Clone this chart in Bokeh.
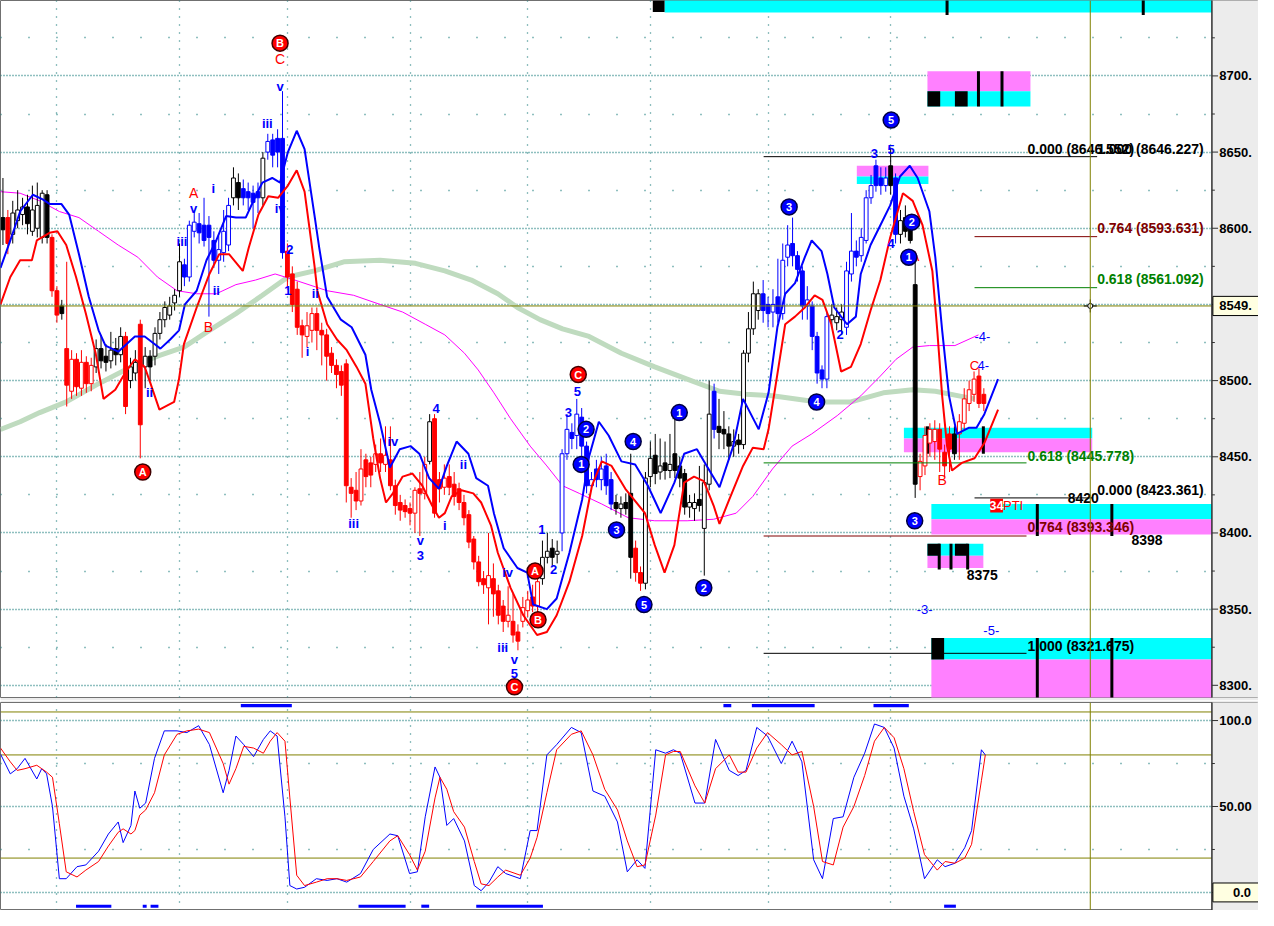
from bokeh.plotting import figure
from bokeh.layouts import column
from bokeh.models import FixedTicker, Span, Range1d, Grid
from bokeh.embed import file_html
from bokeh.resources import INLINE
from bokeh.core.properties import value

FONT = "Liberation Sans"

# ---------------- price bars (one per session) ----------------
bar_open = [8607, 8607, 8596, 8605, 8609, 8614, 8598, 8600, 8594, 8622,
            8594, 8559, 8549, 8521, 8493, 8514, 8495, 8512, 8498, 8509,
            8521, 8516, 8513, 8521, 8517, 8529, 8500, 8505, 8537, 8509,
            8516, 8516, 8531, 8540, 8543, 8551, 8559, 8576, 8568, 8598,
            8603, 8602, 8602, 8592, 8579, 8584, 8589, 8620, 8630, 8626,
            8624, 8623, 8624, 8620, 8650, 8658, 8659, 8659, 8585, 8570,
            8560, 8536, 8529, 8533, 8544, 8533, 8530, 8518, 8510, 8506,
            8511, 8430, 8428, 8421, 8448, 8446, 8445, 8452, 8445, 8448,
            8431, 8420, 8418, 8416, 8413, 8429, 8426, 8447, 8475, 8435,
            8430, 8437, 8432, 8429, 8420, 8412, 8396, 8381, 8370, 8364,
            8370, 8362, 8352, 8342, 8342, 8335, 8342, 8349, 8358, 8352,
            8370, 8384, 8390, 8386, 8400, 8452, 8466, 8464, 8476, 8457,
            8431, 8442, 8435, 8444, 8435, 8420, 8416, 8420, 8426, 8390,
            8374, 8367, 8437, 8451, 8440, 8446, 8441, 8452, 8444, 8439,
            8417, 8416, 8422, 8403, 8432, 8493, 8470, 8468, 8465, 8457,
            8461, 8458, 8518, 8534, 8546, 8557, 8550, 8545, 8555, 8544,
            8581, 8590, 8582, 8572, 8549, 8549, 8529, 8507, 8501, 8540,
            8538, 8540, 8535, 8570, 8585, 8582, 8592, 8620, 8641, 8633,
            8628, 8641, 8633, 8596, 8607, 8599, 8563, 8437, 8444, 8459,
            8460, 8468, 8453, 8465, 8465, 8465, 8472, 8485, 8491, 8503,
            8491]
bar_high = [8633, 8612, 8618, 8625, 8620, 8622, 8628, 8630, 8625, 8625,
            8596, 8562, 8553, 8578, 8520, 8518, 8520, 8516, 8515, 8527,
            8530, 8524, 8532, 8528, 8535, 8532, 8515, 8520, 8540, 8522,
            8520, 8535, 8545, 8552, 8555, 8560, 8590, 8580, 8605, 8612,
            8610, 8620, 8608, 8598, 8595, 8612, 8620, 8640, 8636, 8632,
            8630, 8628, 8630, 8650, 8662, 8662, 8665, 8690, 8590, 8575,
            8565, 8540, 8545, 8548, 8548, 8538, 8534, 8522, 8514, 8510,
            8514, 8436, 8440, 8455, 8452, 8450, 8458, 8462, 8470, 8470,
            8435, 8425, 8422, 8420, 8430, 8440, 8450, 8478, 8478, 8440,
            8445, 8445, 8440, 8433, 8425, 8415, 8398, 8385, 8375, 8400,
            8380, 8366, 8356, 8365, 8360, 8340, 8358, 8362, 8366, 8372,
            8395, 8400, 8396, 8395, 8455, 8478, 8472, 8488, 8482, 8460,
            8440, 8448, 8450, 8452, 8440, 8425, 8424, 8426, 8452, 8395,
            8378, 8440, 8460, 8465, 8462, 8460, 8465, 8475, 8450, 8442,
            8425, 8426, 8444, 8445, 8500, 8498, 8488, 8480, 8470, 8468,
            8465, 8520, 8545, 8565, 8560, 8566, 8555, 8560, 8580, 8590,
            8602, 8607, 8585, 8575, 8562, 8552, 8532, 8510, 8545, 8550,
            8548, 8550, 8578, 8610, 8592, 8600, 8625, 8635, 8645, 8640,
            8640, 8653, 8636, 8612, 8615, 8606, 8580, 8452, 8470, 8472,
            8474, 8472, 8458, 8470, 8470, 8478, 8495, 8500, 8506, 8508,
            8495]
bar_low = [8589, 8583, 8590, 8600, 8602, 8596, 8595, 8594, 8590, 8590,
           8555, 8538, 8540, 8483, 8488, 8490, 8490, 8492, 8493, 8505,
           8508, 8506, 8508, 8510, 8512, 8478, 8495, 8500, 8449, 8495,
           8500, 8510, 8527, 8535, 8540, 8546, 8555, 8562, 8565, 8594,
           8590, 8588, 8542, 8574, 8570, 8578, 8585, 8615, 8612, 8615,
           8612, 8600, 8610, 8615, 8645, 8640, 8640, 8580, 8560, 8545,
           8530, 8515, 8522, 8525, 8520, 8510, 8500, 8505, 8495, 8490,
           8420, 8410, 8415, 8418, 8430, 8430, 8440, 8440, 8440, 8428,
           8412, 8408, 8410, 8405, 8400, 8398, 8422, 8445, 8410, 8420,
           8425, 8425, 8418, 8415, 8405, 8390, 8376, 8365, 8360, 8340,
           8345, 8340, 8335, 8338, 8328, 8323, 8338, 8345, 8348, 8348,
           8366, 8380, 8378, 8380, 8388, 8448, 8455, 8455, 8450, 8426,
           8428, 8430, 8428, 8425, 8415, 8412, 8410, 8412, 8370, 8368,
           8362, 8363, 8430, 8432, 8435, 8435, 8436, 8436, 8430, 8412,
           8410, 8408, 8414, 8372, 8428, 8462, 8455, 8455, 8448, 8450,
           8452, 8455, 8512, 8530, 8540, 8538, 8535, 8535, 8538, 8540,
           8575, 8575, 8565, 8540, 8540, 8520, 8498, 8495, 8495, 8535,
           8533, 8530, 8530, 8565, 8575, 8578, 8590, 8616, 8624, 8622,
           8624, 8622, 8590, 8590, 8594, 8590, 8423, 8428, 8438, 8450,
           8448, 8440, 8437, 8440, 8448, 8448, 8468, 8480, 8486, 8482,
           8480]
bar_close = [8599, 8590, 8610, 8612, 8614, 8603, 8612, 8615, 8623, 8594,
             8559, 8543, 8544, 8497, 8514, 8496, 8512, 8498, 8510, 8521,
             8513, 8512, 8520, 8517, 8529, 8483, 8509, 8512, 8471, 8516,
             8509, 8531, 8540, 8548, 8549, 8556, 8578, 8568, 8602, 8604,
             8597, 8592, 8594, 8579, 8586, 8598, 8615, 8633, 8620, 8620,
             8620, 8617, 8620, 8646, 8657, 8648, 8650, 8584, 8568, 8550,
             8535, 8530, 8536, 8544, 8533, 8530, 8516, 8510, 8504, 8497,
             8431, 8426, 8421, 8442, 8437, 8438, 8452, 8446, 8451, 8431,
             8418, 8415, 8414, 8413, 8428, 8426, 8445, 8473, 8413, 8429,
             8436, 8430, 8424, 8420, 8410, 8394, 8381, 8368, 8366, 8372,
             8360, 8346, 8342, 8346, 8333, 8329, 8351, 8356, 8352, 8368,
             8384, 8388, 8384, 8388, 8452, 8468, 8462, 8478, 8457, 8431,
             8435, 8435, 8442, 8431, 8419, 8416, 8419, 8416, 8384, 8374,
             8367, 8436, 8449, 8439, 8444, 8441, 8445, 8441, 8436, 8417,
             8420, 8420, 8418, 8433, 8478, 8468, 8466, 8465, 8457, 8460,
             8458, 8518, 8534, 8557, 8557, 8546, 8544, 8550, 8544, 8579,
             8589, 8582, 8573, 8549, 8553, 8529, 8505, 8501, 8542, 8543,
             8542, 8545, 8572, 8585, 8581, 8594, 8620, 8628, 8628, 8628,
             8633, 8628, 8596, 8605, 8598, 8592, 8432, 8447, 8464, 8468,
             8468, 8455, 8444, 8455, 8452, 8473, 8488, 8494, 8501, 8485,
             8485]
# bar colour class: k = neutral, b = blue wave, r = red wave
bar_group = list("krkkkkkkkk" "rrkrrrrrrk" "kkkkkrkkrk" "kkkkkkkbbb"
                 "bbbbbbbkkb" "bbbkbbbbrr" "rrrrrrrrrr" "rrrrrrrrrr"
                 "rrrrrrrkrr" "rrrrrrrrrr" "rrrrrrrrrr" "kkkkbbbbbb"
                 "bbbbbkkkkr" "rkkkkkkkkk" "kkkkkbkkkk" "kkkkkbbbbb"
                 "bbbbbbbbbk" "kkbbbbbbbb" "bkbkkkkrrr" "rrrrkrrrrr" "r")

# ---------------- overlay lines ----------------
blue_x = [-0.5, 1.5, 3.5, 6.1, 8.1, 9.5, 11.9, 13.5, 15.5, 17.5,
          19.5, 20.9, 23.5, 26.9, 28.9, 30.9, 32.1, 34.1, 35.9, 37.1,
          39.5, 41.5, 43.5, 45.5, 47.5, 49.5, 51.5, 52.9, 54.9, 56.5,
          58.1, 59.9, 61.5, 63.5, 64.5, 66.1, 68.9, 71.1, 73.9, 75.1,
          76.9, 78.9, 80.9, 83.1, 84.9, 86.9, 88.9, 90.5, 92.5, 94.9,
          96.5, 98.9, 100.1, 102.1, 104.9, 106.9, 108.1, 110.9, 112.9, 115.5,
          118.1, 119.5, 121.5, 123.5, 126.1, 128.9, 131.5, 134.1, 136.9, 138.9,
          141.5, 143.5, 146.1, 148.9, 150.9, 154.1, 156.1, 157.9, 159.5, 161.5,
          163.5, 164.9, 166.9, 168.1, 169.5, 172.1, 173.9, 174.9, 176.9, 178.9,
          180.9, 182.9, 184.9, 186.5, 188.9, 190.1, 191.5, 192.9, 194.5, 196.9,
          198.5, 200.1, 202.9]
blue_y = [8574, 8592, 8611, 8622, 8619, 8616, 8616, 8609, 8583, 8555,
          8533, 8523, 8519, 8529, 8529, 8524, 8521, 8527, 8533, 8550,
          8559, 8579, 8592, 8608, 8607, 8607, 8621, 8630, 8633, 8630,
          8650, 8664, 8652, 8609, 8587, 8555, 8540, 8535, 8517, 8494,
          8472, 8443, 8455, 8457, 8452, 8436, 8429, 8444, 8460, 8452,
          8436, 8431, 8413, 8390, 8377, 8374, 8353, 8350, 8357, 8387,
          8422, 8450, 8473, 8464, 8447, 8445, 8431, 8413, 8433, 8452,
          8455, 8444, 8430, 8457, 8488, 8468, 8492, 8535, 8557, 8564,
          8581, 8592, 8585, 8570, 8548, 8537, 8542, 8570, 8589, 8602,
          8615, 8634, 8641, 8633, 8611, 8581, 8533, 8490, 8465, 8469,
          8469, 8478, 8501]
red_x = [-0.5, 1.5, 3.5, 5.9, 6.9, 9.5, 11.1, 12.9, 14.9, 16.9,
         18.9, 20.5, 22.9, 24.9, 26.9, 28.9, 30.1, 31.9, 34.9, 35.9,
         36.9, 39.5, 42.1, 44.1, 46.1, 48.9, 50.1, 52.1, 54.1, 56.1,
         58.1, 59.9, 61.5, 63.5, 64.1, 66.1, 68.1, 70.1, 72.1, 73.9,
         75.5, 76.9, 78.1, 79.5, 81.5, 83.5, 85.5, 87.5, 88.9, 90.1,
         91.5, 93.5, 95.9, 97.5, 99.5, 100.9, 103.5, 106.1, 108.9, 110.9,
         112.9, 115.5, 118.1, 120.1, 122.1, 124.1, 126.9, 130.9, 132.9, 134.9,
         136.9, 138.9, 140.9, 142.9, 144.9, 146.1, 148.1, 150.9, 152.9, 155.1,
         156.1, 157.5, 159.5, 161.5, 163.5, 165.5, 167.1, 168.9, 170.9, 172.9,
         174.9, 176.9, 178.9, 180.9, 183.5, 185.5, 187.5, 189.5, 190.5, 191.5,
         192.5, 193.5, 195.5, 198.1, 200.1, 202.9]
red_y = [8550, 8568, 8579, 8579, 8592, 8597, 8598, 8589, 8568, 8544,
         8518, 8488, 8494, 8505, 8514, 8509, 8498, 8481, 8486, 8501,
         8524, 8548, 8570, 8583, 8583, 8572, 8587, 8609, 8621, 8620,
         8628, 8638, 8624, 8576, 8559, 8537, 8527, 8520, 8509, 8498,
         8462, 8436, 8420, 8426, 8437, 8439, 8431, 8418, 8410, 8413,
         8424, 8428, 8426, 8420, 8405, 8387, 8364, 8346, 8333, 8335,
         8346, 8368, 8398, 8431, 8447, 8444, 8429, 8413, 8392, 8374,
         8392, 8433, 8437, 8434, 8418, 8406, 8422, 8444, 8456, 8455,
         8468, 8496, 8537, 8542, 8548, 8556, 8553, 8537, 8506, 8509,
         8524, 8546, 8566, 8594, 8623, 8618, 8602, 8572, 8533, 8490,
         8457, 8441, 8446, 8449, 8459, 8481]
mag_x = [-0.5, 3.5, 7.5, 11.5, 15.5, 19.5, 23.5, 27.5, 31.5, 35.5,
         39.5, 43.5, 47.5, 51.5, 55.5, 59.5, 66.1, 71.5, 76.9, 81.5,
         86.1, 90.1, 94.1, 96.9, 100.1, 103.5, 107.5, 110.9, 114.1, 117.5,
         122.1, 127.5, 132.9, 139.5, 144.9, 149.5, 152.9, 156.9, 160.9, 164.9,
         170.1, 174.9, 178.9, 182.1, 185.5, 188.9, 194.1, 198.9]
mag_y = [8624, 8623, 8618, 8611, 8607, 8598, 8589, 8581, 8568, 8559,
         8557, 8557, 8563, 8566, 8570, 8566, 8559, 8556, 8550, 8545,
         8537, 8530, 8518, 8507, 8492, 8475, 8457, 8444, 8431, 8426,
         8419, 8410, 8408, 8408, 8409, 8413, 8424, 8442, 8457, 8465,
         8477, 8490, 8503, 8514, 8522, 8523, 8523, 8530]
green_x = [-0.5, 3.5, 7.5, 12.9, 19.5, 26.1, 31.5, 36.9, 42.1, 47.5,
           52.9, 58.1, 63.5, 69.5, 76.9, 84.1, 90.1, 95.5, 100.9, 104.9,
           109.5, 114.1, 119.5, 126.1, 132.9, 139.5, 146.1, 151.5, 156.9, 166.1,
           172.9, 179.5, 185.5, 190.1, 194.9, 198.1]
green_y = [8468, 8473, 8479, 8486, 8498, 8509, 8516, 8522, 8533, 8544,
           8556, 8568, 8572, 8578, 8579, 8577, 8572, 8566, 8557, 8548,
           8540, 8534, 8529, 8518, 8509, 8501, 8493, 8491, 8490, 8486,
           8486, 8492, 8494, 8493, 8490, 8488]

# ---------------- stochastic ----------------
stoch_x = [-0.5, 1.5, 2.9, 4.5, 6.9, 7.9, 8.9, 10.1, 11.5, 12.9,
           15.1, 16.9, 19.5, 21.5, 23.5, 24.5, 26.1, 26.9, 27.9, 29.1,
           30.9, 32.9, 35.5, 37.5, 39.9, 42.1, 44.9, 46.1, 47.5, 49.1,
           51.1, 53.1, 54.5, 55.9, 57.5, 58.5, 59.9, 61.5, 63.9, 66.1,
           68.1, 70.1, 72.9, 75.5, 78.9, 80.5, 82.9, 84.5, 86.1, 88.1,
           89.1, 90.5, 91.9, 94.1, 96.1, 97.5, 99.1, 100.9, 102.5, 105.5,
           107.5, 108.9, 110.9, 112.9, 115.9, 117.9, 120.3, 122.7, 125.3, 127.3,
           129.3, 130.9, 133.1, 135.1, 136.7, 138.1, 141.1, 143.1, 145.3, 148.1,
           149.9, 151.5, 153.7, 155.9, 158.7, 160.9, 162.9, 165.3, 167.1, 169.3,
           171.3, 173.5, 175.7, 177.7, 179.7, 181.7, 183.7, 185.7, 187.9, 190.5,
           192.1, 194.1, 196.1, 197.5, 199.5, 200.3]
stoch_k = [80.5, 69, 72, 78, 66, 72, 69, 50, 8, 8,
           15, 16, 24, 34, 41, 29, 39, 59, 49, 52,
           78, 94, 94, 93, 97, 86, 58, 71, 91, 86,
           79, 89, 94, 91, 44, 4, 2, 3, 8, 7,
           8, 6, 11, 25, 34, 33, 11, 12, 44, 73,
           67, 39, 43, 30, 4, 1, 6, 15, 11, 8,
           36, 36, 80, 86, 96, 93, 59, 56, 41, 12,
           19, 14, 83, 81, 83, 81, 52, 52, 89, 71,
           68, 71, 96, 91, 75, 88, 76, 19, 8, 43,
           44, 67, 81, 98, 96, 84, 56, 37, 8, 19,
           15, 17, 26, 36, 83, 80]
stoch_d = [84, 76, 71, 72, 74, 72, 70, 67, 40, 12,
           9, 13, 18, 27, 35, 37, 34, 36, 45, 48,
           58, 80, 92, 94, 95, 93, 75, 63, 72, 85,
           84, 81, 88, 93, 88, 55, 10, 4, 6, 8,
           8, 7, 9, 18, 30, 33, 22, 13, 24, 55,
           67, 60, 47, 38, 18, 5, 4, 9, 13, 10,
           20, 32, 58, 83, 92, 94, 80, 60, 48, 30,
           15, 16, 45, 80, 82, 82, 62, 52, 72, 80,
           70, 70, 84, 93, 86, 80, 82, 50, 18, 16,
           38, 50, 68, 88, 96, 90, 72, 47, 22, 13,
           18, 17, 20, 28, 65, 80]
strip_top_from = [48.5, 146.9, 152.7, 177.5]
strip_top_to = [58.9, 148.5, 165.5, 184.7]
strip_bot_from = [14.9, 28.5, 30.1, 72.5, 85.3, 96.5, 191.9]
strip_bot_to = [22.1, 29.3, 31.7, 82.1, 86.9, 110.1, 194.3]

# ---------------- zones ----------------
zone_left = [134.9, 132.5, 188.5, 188.5, 188.5, 194.1, 174.1, 174.1, 183.7, 183.7,
             189.3, 189.3, 188.5, 188.5, 188.5, 194.1, 189.3, 189.3, 189.3]
zone_right = [246.5, 134.9, 209.5, 209.5, 191.1, 196.7, 188.7, 188.7, 222.1, 222.1,
              246.5, 246.5, 199.9, 199.9, 191.1, 196.7, 246.5, 246.5, 191.9]
zone_bottom = [8741.7, 8742, 8690, 8680, 8680, 8680, 8634, 8629, 8462, 8453,
               8409, 8399, 8385, 8377, 8385, 8385, 8317, 8280, 8317]
zone_top = [8760, 8749.5, 8703, 8690, 8690, 8690, 8641, 8634, 8469, 8462,
            8419, 8409, 8393, 8385, 8393, 8393, 8331, 8317, 8331]
zone_color = ["#00ffff", "black", "#ff80ff", "#00ffff", "black", "black", "#ff80ff", "#00ffff",
              "#00ffff", "#ff80ff", "#00ffff", "#ff80ff", "#00ffff", "#ff80ff", "black", "black",
              "#00ffff", "#ff80ff", "black"]
tick_x = [192.5, 232.5, 198.9, 203.7, 188.5, 199.9, 210.9, 226.1, 190.9, 193.3, 196.7, 210.9, 226.1]
tick_lo = [8740, 8740, 8680, 8680, 8452, 8452, 8398, 8398, 8376, 8376, 8376, 8290, 8290]
tick_hi = [8750, 8750, 8703, 8703, 8470, 8470, 8419, 8419, 8393, 8393, 8393, 8331, 8331]

# ---------------- fibonacci levels ----------------
fib_level = [8647, 8594.5, 8561, 8446, 8423, 8398, 8321]
fib_x0 = [155.1, 198.1, 198.1, 155.1, 198.1, 155.1, 155.1]
fib_x1 = [223.1, 223.1, 223.1, 208.7, 222.1, 208.7, 208.7]
fib_color = ["black", "#800000", "#008000", "#008000", "black", "#800000", "black"]
fib_text = ["0.000 (8646.552)", "1.000 (8646.227)", "0.764 (8593.631)", "0.618 (8561.092)",
            "0.618 (8445.778)", "0.000 (8423.361)", "8420", "0.764 (8393.346)", "8398",
            "8375", "1.000 (8321.675)"]
fib_tx = [208.9, 223.1, 223.1, 223.1, 208.9, 223.1, 217.1, 208.9, 230.1, 196.5, 208.9]
fib_ty = [8651.8, 8651.8, 8600.3, 8566.4, 8450.5, 8428.3, 8423.1, 8403.6, 8395.1, 8372.3, 8326.1]
fib_tcolor = ["black", "black", "#800000", "#008000", "#008000", "black", "black", "#800000",
              "black", "black", "black"]

# ---------------- wave labels ----------------
red_wave_text = ["C", "A", "B", "B", "A"]
red_wave_x = [56.5, 38.9, 41.9, 191.5, 185.9]
red_wave_y = [8711, 8623, 8535, 8435, 8582]
blue_wave_text = ["v", "iii", "iv", "2", "1", "ii", "i", "v", "i", "iii", "ii", "ii",
                  "iii", "iv", "v", "3", "4", "ii", "i", "iii", "iv", "v", "5",
                  "1", "2", "3", "5", "2", "3", "5", "4"]
blue_wave_x = [56.5, 53.9, 56.5, 58.5, 58.1, 63.7, 62.1, 38.9, 42.9, 36.5, 43.5, 29.9,
               71.5, 79.5, 85.1, 85.1, 88.3, 93.9, 90.1, 101.9, 102.9, 104.3, 104.3,
               109.9, 112.3, 115.3, 117.1, 170.7, 177.7, 181.1, 181.1]
blue_wave_y = [8693, 8669, 8613, 8586, 8559, 8557, 8519, 8613, 8626, 8591, 8559, 8492,
               8406, 8460, 8395, 8385, 8482, 8445, 8405, 8325, 8374, 8317, 8308,
               8402, 8376, 8479, 8493, 8530, 8649, 8652, 8590]

circ_text = ["B", "A", "C", "A", "B", "C",
             "5", "3", "1", "4", "3", "5", "2", "4", "1", "2", "3", "2", "1"]
circ_x = [56.5, 28.5, 117.3, 108.5, 109.1, 104.3,
          181.1, 160.3, 137.9, 128.5, 125.1, 130.7, 142.9, 165.9, 184.7, 185.3, 185.9, 118.9, 117.9]
circ_y = [8721.5, 8440, 8504, 8375, 8343, 8299,
          8671, 8614, 8479, 8460, 8402, 8353, 8364, 8486, 8581, 8604, 8408, 8468, 8445]
circ_red_count = 6

misc_text = ["-3-", "-5-", "-4-", "4-", "C", "PTI"]
misc_x = [186.3, 199.9, 198.1, 198.7, 197.1, 203.9]
misc_y = [8350, 8336, 8529, 8510, 8510, 8418]
misc_color = ["#0000ff", "#0000ff", "#0000ff", "#0000ff", "#ff0000", "#ff0000"]

price_ticks = [8300, 8350, 8400, 8450, 8500, 8550, 8600, 8650, 8700]
price_minor = [8325, 8375, 8425, 8475, 8525, 8575, 8625, 8675, 8725]
osc_ticks = [0, 50, 100]
osc_minor = [25, 75]
osc_labels = ["", "50.00", "100.0"]
osc_levels = [105, 80, 20]
vgrid_major = [11, 36, 58, 83, 107, 132, 156, 181]
cross_x = 221.7
cross_price = 8549
osc_last = 0.0

GRID = "#1f7f7f"
OLIVE = "#808000"
AX_BG = "#ececec"
X_END = 246.5      # right edge of the bar area (axis line)
X_MAX = 256.0      # right edge of canvas (axis strip)
TICK_LONG = 1.25
TICK_SHORT = 0.6

xr = Range1d(-0.5, X_MAX)


def add_grids(fig, yticks, yminor):
    fig.add_layout(Grid(dimension=0, ticker=FixedTicker(ticks=vgrid_major),
                        grid_line_color=GRID, grid_line_dash="1 7", grid_line_width=1.3))
    fig.add_layout(Grid(dimension=1, ticker=FixedTicker(ticks=yticks, minor_ticks=yminor),
                        grid_line_color=GRID, grid_line_dash="1 2", grid_line_width=1.3,
                        minor_grid_line_color=GRID, minor_grid_line_dash="1 27",
                        minor_grid_line_width=1.3))


def right_strip(fig, y0, y1, ticks, minor, labels):
    """Axis strip drawn on the right, as the trading package does."""
    fig.quad(left=[X_END], right=[X_MAX + 1], bottom=[y0], top=[y1],
             fill_color=AX_BG, line_color=None)
    fig.segment(x0=[X_END], y0=[y0], x1=[X_END], y1=[y1], line_color="#303030", line_width=1.5)
    fig.segment(x0=[X_END] * len(ticks), y0=ticks, x1=[X_END + TICK_LONG] * len(ticks), y1=ticks,
                line_color="#303030", line_width=1)
    fig.segment(x0=[X_END] * len(minor), y0=minor, x1=[X_END + TICK_SHORT] * len(minor), y1=minor,
                line_color="#303030", line_width=1)
    fig.text(x=[X_END + 1.5] * len(ticks), y=ticks, text=labels, text_color="black",
             text_font=value(FONT), text_font_size="13px", text_font_style="bold",
             text_align="left", text_baseline="middle")


def value_box(fig, y, half, label, x_text):
    fig.quad(left=[X_END + 0.2], right=[X_MAX + 1], bottom=[y - half], top=[y + half],
             fill_color="#ffffe1", line_color="black", line_width=1)
    fig.text(x=[x_text], y=[y], text=[label], text_color="black", text_font=value(FONT),
             text_font_size="13px", text_font_style="bold", text_align="left",
             text_baseline="middle")


# ================= price panel =================
p = figure(width=1258, height=700, x_range=xr, y_range=Range1d(8292, 8749.5),
           x_axis_location=None, y_axis_location=None,
           output_backend="svg", toolbar_location=None,
           min_border_left=0, min_border_top=0, min_border_bottom=3, min_border_right=0)
p.grid.visible = False
p.background_fill_color = "white"
p.border_fill_color = AX_BG
p.outline_line_color = "#707070"
add_grids(p, price_ticks, price_minor)

p.quad(left=zone_left, right=zone_right, bottom=zone_bottom, top=zone_top,
       fill_color=zone_color, line_color=None)
p.segment(x0=tick_x, y0=tick_lo, x1=tick_x, y1=tick_hi, line_color="black", line_width=3)

p.line(green_x, green_y, line_color="#bfdbbf", line_width=5)
p.line(mag_x, mag_y, line_color="#ff00ff", line_width=1)

cmap = {"k": "black", "b": "#0000ff", "r": "#ff0000"}
bar_x = list(range(len(bar_open)))
line_col = [cmap[g] for g in bar_group]
fill_col = [cmap[g] if c < o else "white" for g, o, c in zip(bar_group, bar_open, bar_close)]
body_top = [max(o, c) for o, c in zip(bar_open, bar_close)]
body_bot = [min(o, c) for o, c in zip(bar_open, bar_close)]
p.segment(x0=bar_x, y0=bar_low, x1=bar_x, y1=bar_high, line_color=line_col, line_width=1)
p.vbar(x=bar_x, top=body_top, bottom=body_bot, width=0.78,
       fill_color=fill_col, line_color=line_col, line_width=1)

p.segment(x0=fib_x0, y0=fib_level, x1=fib_x1, y1=fib_level, line_color=fib_color, line_width=1)

p.line(blue_x, blue_y, line_color="#0000ff", line_width=2)
p.line(red_x, red_y, line_color="#ff0000", line_width=2)

p.segment(x0=[-0.5], y0=[cross_price], x1=[X_END], y1=[cross_price], line_color=OLIVE, line_width=1)
p.add_layout(Span(location=cross_x, dimension="height", line_color=OLIVE, line_width=1))
p.scatter([cross_x], [cross_price], marker="cross", size=13, line_color="black", line_width=1)
p.scatter([cross_x], [cross_price], marker="circle", size=5, fill_color="white", line_color="black")

p.text(x=fib_tx, y=fib_ty, text=fib_text, text_color=fib_tcolor, text_font=value(FONT),
       text_font_size="14px", text_font_style="bold", text_align="left", text_baseline="middle")

p.text(x=red_wave_x, y=red_wave_y, text=red_wave_text, text_color="#ff0000", text_font=value(FONT),
       text_font_size="14px", text_align="center", text_baseline="middle")
p.text(x=blue_wave_x, y=blue_wave_y, text=blue_wave_text, text_color="#0000ff",
       text_font=value(FONT), text_font_size="13px", text_font_style="bold",
       text_align="center", text_baseline="middle")

circ_fill = ["#ff0000"] * circ_red_count + ["#0000ff"] * (len(circ_text) - circ_red_count)
circ_line = ["#400000"] * circ_red_count + ["#000040"] * (len(circ_text) - circ_red_count)
p.scatter(circ_x, circ_y, marker="circle", size=16, fill_color=circ_fill, line_color=circ_line,
          line_width=1.5)
p.text(x=circ_x, y=circ_y, text=circ_text, text_color="white", text_font=value(FONT),
       text_font_size="11px", text_font_style="bold", text_align="center", text_baseline="middle")

p.quad(left=[201.3], right=[203.9], bottom=[8413.4], top=[8422.5], fill_color="#ff0000", line_color=None)
p.text(x=[202.6], y=[8418], text=["34"], text_color="white", text_font=value(FONT),
       text_font_size="13px", text_font_style="bold", text_align="center", text_baseline="middle")
p.text(x=misc_x, y=misc_y, text=misc_text, text_color=misc_color, text_font=value(FONT),
       text_font_size="13px", text_align="left", text_baseline="middle")

right_strip(p, 8280, 8760, price_ticks, price_minor, [f"{t}." for t in price_ticks])
value_box(p, cross_price, 6.3, f"{cross_price}.", X_END + 1.5)

# ================= oscillator panel =================
q = figure(width=1258, height=210, x_range=xr, y_range=Range1d(-10.5, 110.5),
           x_axis_location=None, y_axis_location=None,
           output_backend="svg", toolbar_location=None,
           min_border_left=0, min_border_top=2, min_border_bottom=0, min_border_right=0)
q.grid.visible = False
q.background_fill_color = "white"
q.border_fill_color = AX_BG
q.outline_line_color = "#707070"
add_grids(q, osc_ticks, osc_minor)

q.segment(x0=[-0.5] * len(osc_levels), y0=osc_levels, x1=[X_END] * len(osc_levels), y1=osc_levels,
          line_color=OLIVE, line_width=1)
q.add_layout(Span(location=cross_x, dimension="height", line_color=OLIVE, line_width=1))

q.quad(left=strip_top_from, right=strip_top_to, bottom=[107.8] * len(strip_top_from),
       top=[109.6] * len(strip_top_from), fill_color="#0000ff", line_color=None)
q.quad(left=strip_bot_from, right=strip_bot_to, bottom=[-8.9] * len(strip_bot_from),
       top=[-7.1] * len(strip_bot_from), fill_color="#0000ff", line_color=None)

q.line(stoch_x, stoch_k, line_color="#0000ff", line_width=1)
q.line(stoch_x, stoch_d, line_color="#ff0000", line_width=1)

right_strip(q, -20, 120, osc_ticks, osc_minor, osc_labels)
value_box(q, osc_last, 5.5, f"{osc_last:.1f}", X_END + 4.3)

layout = column(p, q, spacing=0)
open("out.html", "w").write(file_html(layout, INLINE, "chart"))
